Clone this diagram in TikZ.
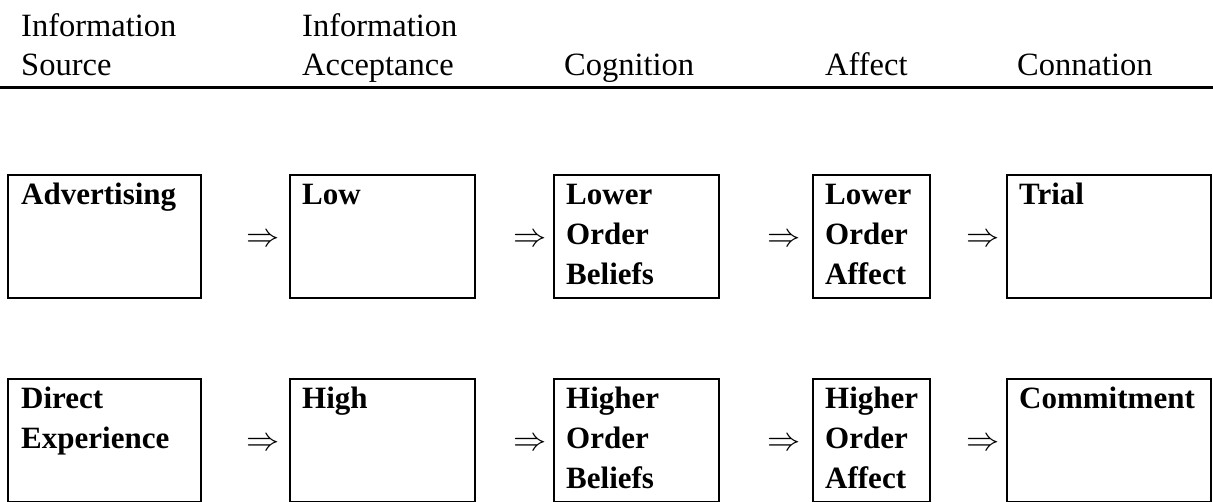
\documentclass[tikz,border=0pt]{standalone}
\usepackage{fontspec}
\setmainfont{Liberation Serif}
\usetikzlibrary{positioning}

\newcommand{\stacked}[1]{\begin{tabular}[t]{@{}l@{}}#1\end{tabular}}
\newcommand{\bigimplies}{\scalebox{1.6}{$\Rightarrow$}}

\begin{document}
\begin{tikzpicture}[
  x=1pt, y=-1pt,
  every node/.style={inner sep=0pt},
  head/.style={anchor=base west, font=\fontsize{32.5}{39}\selectfont},
  stagebox/.style={draw, line width=1.6pt, anchor=north west, minimum height=123pt},
  boxtext/.style={anchor=base west, font=\fontsize{31}{40}\selectfont\bfseries},
  implies/.style={pos=0.7, yshift=-4pt, font=\fontsize{20}{24}\selectfont}
]
\useasboundingbox (0,0) rectangle (1213,502);

% Column headings
\node[head] (hsrc) at (21,37) {\stacked{Information\\Source}};
\node[head] (hacc) at (302,37) {\stacked{Information\\Acceptance}};
\node[head] (hcog) at (564,76) {Cognition};
\node[head] (haff) at (825,76) {Affect};
\node[head] (hcon) at (1017,76) {Connation};
\coordinate (ruleL) at (0,88);
\coordinate (ruleR) at (1213,88);
\draw[line width=3pt] (ruleL) -- (ruleR);

% Row 1: advertising
\node[stagebox, minimum width=193pt] (adv) at (7,174) {};
\node[stagebox, minimum width=185pt] (low) at (289,174) {};
\node[stagebox, minimum width=165pt] (lob) at (553,174) {};
\node[stagebox, minimum width=117pt] (loa) at (812,174) {};
\node[stagebox, minimum width=204pt] (trial) at (1006,174) {};
\node[boxtext] (tadv) at ([xshift=14pt,yshift=-31pt]adv.north west) {Advertising};
\node[boxtext] (tlow) at ([xshift=13pt,yshift=-31pt]low.north west) {Low};
\node[boxtext] (tlob) at ([xshift=13pt,yshift=-31pt]lob.north west) {\stacked{Lower\\Order\\Beliefs}};
\node[boxtext] (tloa) at ([xshift=13pt,yshift=-31pt]loa.north west) {\stacked{Lower\\Order\\Affect}};
\node[boxtext] (ttrial) at ([xshift=13pt,yshift=-31pt]trial.north west) {Trial};

% Row 2: direct experience
\node[stagebox, minimum width=193pt] (dir) at (7,378) {};
\node[stagebox, minimum width=185pt] (high) at (289,378) {};
\node[stagebox, minimum width=165pt] (hib) at (553,378) {};
\node[stagebox, minimum width=117pt] (hia) at (812,378) {};
\node[stagebox, minimum width=204pt] (commit) at (1006,378) {};
\node[boxtext] (tdir) at ([xshift=14pt,yshift=-31pt]dir.north west) {\stacked{Direct\\Experience}};
\node[boxtext] (thigh) at ([xshift=13pt,yshift=-31pt]high.north west) {High};
\node[boxtext] (thib) at ([xshift=13pt,yshift=-31pt]hib.north west) {\stacked{Higher\\Order\\Beliefs}};
\node[boxtext] (thia) at ([xshift=13pt,yshift=-31pt]hia.north west) {\stacked{Higher\\Order\\Affect}};
\node[boxtext] (tcommit) at ([xshift=13pt,yshift=-31pt]commit.north west) {Commitment};

% Implication arrows
\path (adv) -- node[implies] (i11) {\bigimplies} (low);
\path (low) -- node[implies] (i12) {\bigimplies} (lob);
\path (lob) -- node[implies] (i13) {\bigimplies} (loa);
\path (loa) -- node[implies] (i14) {\bigimplies} (trial);
\path (dir) -- node[implies] (i21) {\bigimplies} (high);
\path (high) -- node[implies] (i22) {\bigimplies} (hib);
\path (hib) -- node[implies] (i23) {\bigimplies} (hia);
\path (hia) -- node[implies] (i24) {\bigimplies} (commit);

\end{tikzpicture}
\end{document}
